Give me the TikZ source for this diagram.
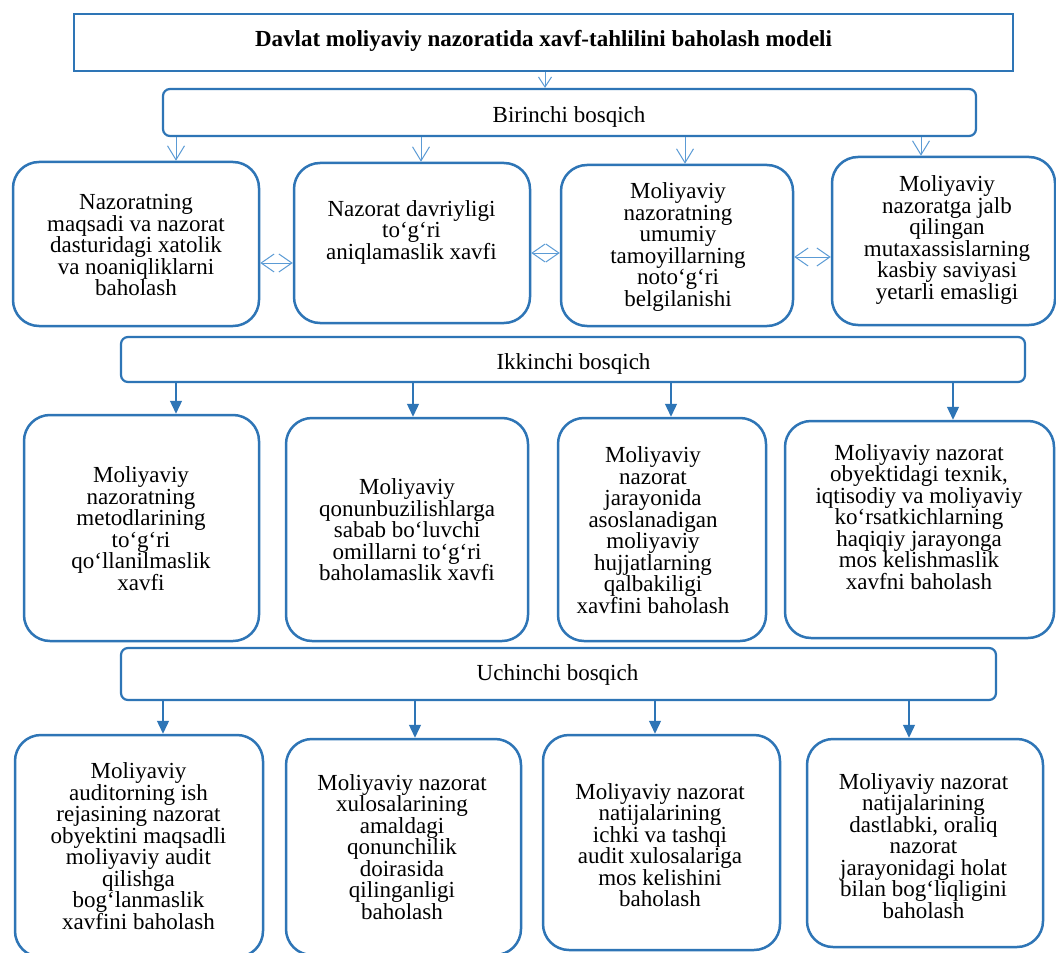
\documentclass[tikz,border=0pt]{standalone}
\usepackage{fontspec}
\setmainfont{Liberation Serif}
\usetikzlibrary{arrows.meta}
\definecolor{bdr}{RGB}{46,117,182}
\definecolor{arl}{RGB}{91,155,213}
\newcommand\myboxfont{\fontsize{23}{21.5}\selectfont\lineskiplimit=-20pt\relax}
\begin{document}
\begin{tikzpicture}[x=1pt,y=-1pt,
  tbox/.style={draw=bdr,line width=2.2pt,inner sep=0pt},
  hbox/.style={tbox,rounded corners=7pt},
  rbox/.style={tbox,line width=2.5pt,rounded corners=26pt},
  txt/.style={align=center,inner sep=0pt,font=\myboxfont},
  oarr/.style={draw=arl,line width=1pt,-{Straight Barb[length=14pt,width=17pt]}},
  darr/.style={draw=arl,line width=1pt,{Straight Barb[length=13pt,width=18pt]}-{Straight Barb[length=13pt,width=18pt]}},
  farr/.style={draw=bdr,line width=1.3pt,-{Triangle[length=13pt,width=12pt]}}]
\useasboundingbox (0,0) rectangle (1056,952);
\fill[white] (0,0) rectangle (1056,952);

% title and stage headers
\node[tbox,minimum width=939pt,minimum height=57pt] (title) at (543.5,42.5) {};
\node[txt,font=\myboxfont\bfseries] (titlet) at (543.5,41) {Davlat moliyaviy nazoratida xavf-tahlilini baholash modeli};
\node[hbox,minimum width=813pt,minimum height=47pt] (s1) at (569.5,112.5) {};
\node[txt] (s1t) at (569,117) {Birinchi bosqich};
\node[hbox,minimum width=904pt,minimum height=45pt] (s2) at (573,359.5) {};
\node[txt] (s2t) at (573.5,364) {Ikkinchi bosqich};
\node[hbox,minimum width=875pt,minimum height=52pt] (s3) at (558.5,674) {};
\node[txt] (s3t) at (557.5,675) {Uchinchi bosqich};

% row 1
\node[rbox,minimum width=246pt,minimum height=164pt] (b1) at (136,244) {};
\node[txt] (b1t) at (136,245) {Nazoratning\\maqsadi va nazorat\\dasturidagi xatolik\\va noaniqliklarni\\baholash};
\node[rbox,minimum width=236pt,minimum height=160pt] (b2) at (412,243) {};
\node[txt] (b2t) at (411.5,232) {Nazorat davriyligi\\to‘g‘ri\\aniqlamaslik xavfi};
\node[rbox,minimum width=232pt,minimum height=161pt] (b3) at (677,245.5) {};
\node[txt] (b3t) at (678,247) {Moliyaviy\\nazoratning\\umumiy\\tamoyillarning\\noto‘g‘ri\\belgilanishi};
\node[rbox,minimum width=223pt,minimum height=168pt] (b4) at (943.5,241) {};
\node[txt] (b4t) at (947,240) {Moliyaviy\\nazoratga jalb\\qilingan\\mutaxassislarning\\kasbiy saviyasi\\yetarli emasligi};

% row 2
\node[rbox,minimum width=235pt,minimum height=226pt] (c1) at (141.5,528) {};
\node[txt] (c1t) at (141,528.5) {Moliyaviy\\nazoratning\\metodlarining\\to‘g‘ri\\qo‘llanilmaslik\\xavfi};
\node[rbox,minimum width=242pt,minimum height=223pt] (c2) at (407,529.5) {};
\node[txt] (c2t) at (407,530) {Moliyaviy\\qonunbuzilishlarga\\sabab bo‘luvchi\\omillarni to‘g‘ri\\baholamaslik xavfi};
\node[rbox,minimum width=208pt,minimum height=223pt] (c3) at (662,529.5) {};
\node[txt] (c3t) at (653,530) {Moliyaviy\\nazorat\\jarayonida\\asoslanadigan\\moliyaviy\\hujjatlarning\\qalbakiligi\\xavfini baholash};
\node[rbox,minimum width=269pt,minimum height=217pt] (c4) at (919.5,529.5) {};
\node[txt] (c4t) at (919,517) {Moliyaviy nazorat\\obyektidagi texnik,\\iqtisodiy va moliyaviy\\ko‘rsatkichlarning\\haqiqiy jarayonga\\mos kelishmaslik\\xavfni baholash};

% row 3
\node[rbox,minimum width=248pt,minimum height=222pt] (d1) at (139,846) {};
\node[txt] (d1t) at (138.5,846) {Moliyaviy\\auditorning ish\\rejasining nazorat\\obyektini maqsadli\\moliyaviy audit\\qilishga\\bog‘lanmaslik\\xavfini baholash};
\node[rbox,minimum width=235pt,minimum height=216pt] (d2) at (403.5,847) {};
\node[txt] (d2t) at (402,847) {Moliyaviy nazorat\\xulosalarining\\amaldagi\\qonunchilik\\doirasida\\qilinganligi\\baholash};
\node[rbox,minimum width=237pt,minimum height=215pt] (d3) at (661.5,842.5) {};
\node[txt] (d3t) at (660,845) {Moliyaviy nazorat\\natijalarining\\ichki va tashqi\\audit xulosalariga\\mos kelishini\\baholash};
\node[rbox,minimum width=236pt,minimum height=208pt] (d4) at (925,843) {};
\node[txt] (d4t) at (923.5,846) {Moliyaviy nazorat\\natijalarining\\dastlabki, oraliq\\nazorat\\jarayonidagi holat\\bilan bog‘liqligini\\baholash};

% helper coordinates
\coordinate (x0) at (545,0);
\coordinate (xa1) at (176,0);
\coordinate (xa2) at (421,0);
\coordinate (xa3) at (685,0);
\coordinate (xa4) at (921,0);
\coordinate (xb1) at (176,0);
\coordinate (xb2) at (413,0);
\coordinate (xb3) at (671,0);
\coordinate (xb4) at (953,0);
\coordinate (xc1) at (163,0);
\coordinate (xc2) at (415,0);
\coordinate (xc3) at (655,0);
\coordinate (xc4) at (909,0);
\coordinate (y12) at (0,263);
\coordinate (y23) at (0,253);
\coordinate (y34) at (0,257);

% connectors
\draw[draw=arl,line width=1pt,-{Straight Barb[length=10pt,width=13pt]}] (title.south -| x0) -- (s1.north -| x0);
\draw[oarr] (s1.south -| xa1) -- (b1.north -| xa1);
\draw[oarr] (s1.south -| xa2) -- (b2.north -| xa2);
\draw[oarr] (s1.south -| xa3) -- (b3.north -| xa3);
\draw[oarr] (s1.south -| xa4) -- (b4.north -| xa4);
\draw[darr] (b1.east |- y12) -- (b2.west |- y12);
\draw[darr] (b2.east |- y23) -- (b3.west |- y23);
\draw[darr] (b3.east |- y34) -- (b4.west |- y34);
\draw[farr] (s2.south -| xb1) -- (c1.north -| xb1);
\draw[farr] (s2.south -| xb2) -- (c2.north -| xb2);
\draw[farr] (s2.south -| xb3) -- (c3.north -| xb3);
\draw[farr] (s2.south -| xb4) -- (c4.north -| xb4);
\draw[farr] (s3.south -| xc1) -- (d1.north -| xc1);
\draw[farr] (s3.south -| xc2) -- (d2.north -| xc2);
\draw[farr] (s3.south -| xc3) -- (d3.north -| xc3);
\draw[farr] (s3.south -| xc4) -- (d4.north -| xc4);
\end{tikzpicture}
\end{document}
